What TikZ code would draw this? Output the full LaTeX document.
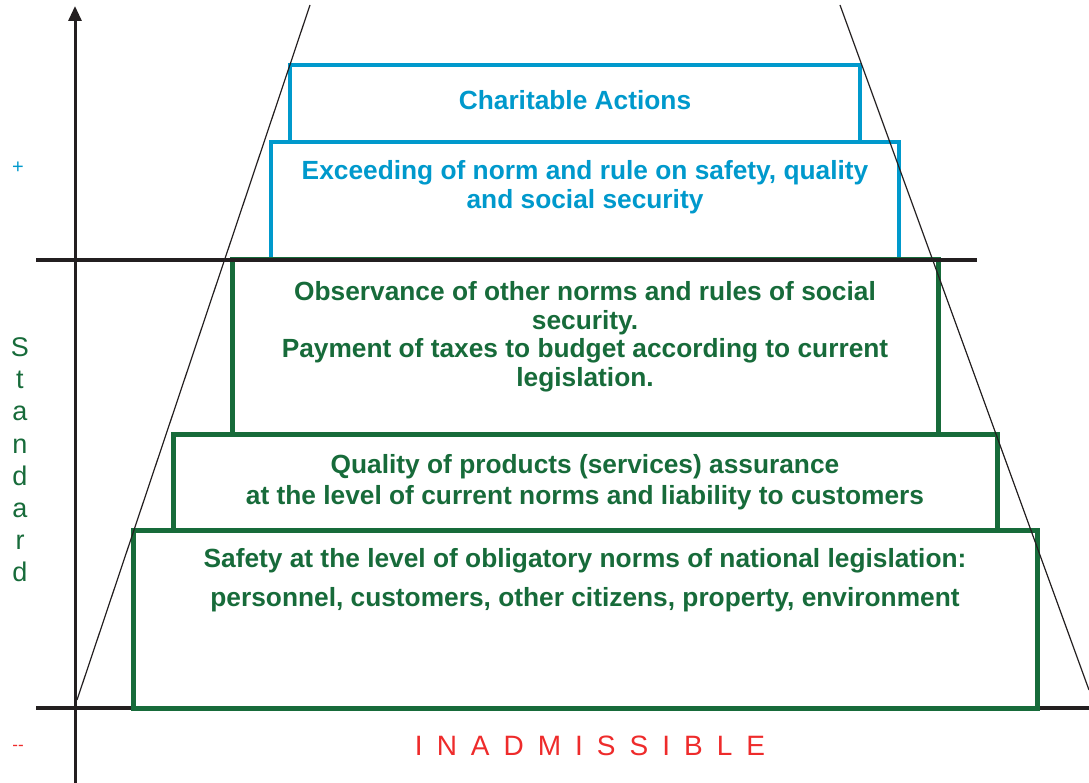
\documentclass[tikz,border=0pt]{standalone}
\usepackage{fontspec}
\setmainfont{Liberation Sans}
\usepackage{tikz}
\usetikzlibrary{arrows.meta}
\definecolor{sky}{HTML}{0099CC}
\definecolor{pine}{HTML}{176B3A}
\definecolor{tomato}{HTML}{EE2B2B}
\definecolor{ink}{HTML}{231F20}

\begin{document}
\begin{tikzpicture}[x=1pt,y=-1pt,
  bluebox/.style={rectangle, draw=sky, line width=4.5pt, inner sep=0pt},
  greenbox/.style={rectangle, draw=pine, line width=5pt, inner sep=0pt},
  bluetext/.style={text=sky, font=\fontsize{26.3}{28.5}\selectfont\bfseries, align=center},
  greentext/.style={text=pine, font=\fontsize{26.3}{28.5}\selectfont\bfseries, align=center},
  rule/.style={ink, line width=4pt}]
  \useasboundingbox (0,0) rectangle (1089,783);
  \draw[rule] (36,708) -- (1089,708);
  % steps of the pyramid
  \node[bluebox, minimum width=570pt, minimum height=77pt] (charity) at (575,103.5) {};
  \node[bluebox, minimum width=628pt, minimum height=118pt] (exceed) at (585,201) {};
  \node[greenbox, minimum width=706pt, minimum height=174pt] (observe) at (585,347) {};
  \node[greenbox, minimum width=824pt, minimum height=96pt] (quality) at (585,482) {};
  \node[greenbox, minimum width=904pt, minimum height=178pt] (safety) at (585,619) {};
  \node[bluetext] (ctext) at (575,100) {Charitable Actions};
  \node[bluetext] (etext) at (585,187) {Exceeding of norm and rule on safety, quality\\and social security};
  \node[greentext] (otext) at (585,337) {Observance of other norms and rules of social\\security.\\Payment of taxes to budget according to current\\legislation.};
  \node[greentext] (qtext) at (585,482) {Quality of products (services) assurance\\[3pt]at the level of current norms and liability to customers};
  \node[greentext] (stext) at (585,580) {Safety at the level of obligatory norms of national legislation:\\[11pt]personnel, customers, other citizens, property, environment};
  \draw[rule] (36,260) -- (977,260);
  \draw[ink, line width=1.2pt] (77,700) -- (310,5);
  \draw[ink, line width=1.2pt] (840,5) -- (1089,690);
  \draw[ink, line width=3pt, -{Triangle[length=15pt,width=13pt]}] (75,783) -- (75,6);
  % side labels
  \node[text=sky, font=\fontsize{20}{20}\selectfont] (plus) at (18,168) {+};
  \node[text=pine, font=\fontsize{27}{32.2}\selectfont, align=center] (standard) at (20,460) {S\\t\\a\\n\\d\\a\\r\\d};
  \node[text=tomato, font=\fontsize{17}{17}\selectfont] (minus) at (18,748) {-{}-};
  \node[text=tomato, font=\fontsize{28}{28}\selectfont\addfontfeature{LetterSpace=50}] (inadm) at (590,746) {INADMISSIBLE};
\end{tikzpicture}
\end{document}
